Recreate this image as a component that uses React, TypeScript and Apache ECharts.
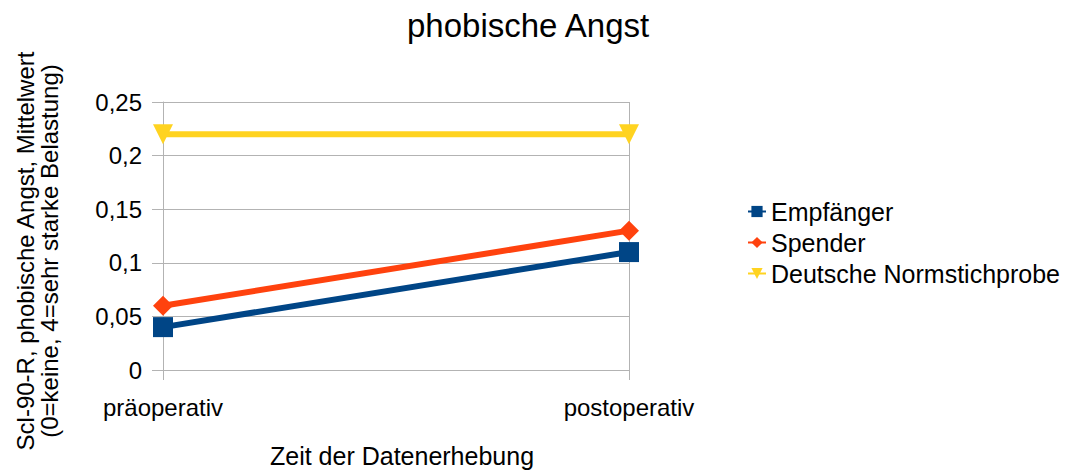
import React, { useEffect, useRef } from "react";
import * as echarts from "echarts";

const categories = ["präoperativ", "postoperativ"];
const empfaenger = [0.04, 0.11];
const spender = [0.06, 0.13];
const normstichprobe = [0.22, 0.22];
const seriesNames = ["Empfänger", "Spender", "Deutsche Normstichprobe"];
const yTicks = { min: 0, max: 0.25, interval: 0.05 };

const FONT = "Liberation Sans";

export default function App() {
  const ref = useRef<HTMLDivElement>(null);
  useEffect(() => {
    if (!ref.current) return;
    const chart = echarts.init(ref.current, null, { renderer: "svg" });
    chart.setOption({
      animation: false,
      backgroundColor: "#ffffff",
      textStyle: { fontFamily: FONT },
      title: {
        text: "phobische Angst",
        left: 402,
        top: 4,
        textStyle: { fontFamily: FONT, fontSize: 33, fontWeight: "normal", color: "#000" },
      },
      legend: {
        orient: "vertical",
        left: 742,
        top: 194,
        itemGap: 6,
        itemWidth: 18,
        itemHeight: 14,
        textStyle: { fontFamily: FONT, fontSize: 25, color: "#000" },
        data: seriesNames,
      },
      grid: { left: 163, right: 438, top: 102, bottom: 97, containLabel: false },
      xAxis: {
        type: "category",
        data: categories,
        boundaryGap: false,
        name: "Zeit der Datenerhebung",
        nameLocation: "middle",
        nameGap: 73,
        nameTextStyle: { fontFamily: FONT, fontSize: 25, color: "#000", padding: [0, 0, 0, 12] },
        axisLine: { show: true, lineStyle: { color: "#b3b3b3", width: 1 } },
        axisTick: { show: true, length: 10, lineStyle: { color: "#b3b3b3" } },
        axisLabel: { fontFamily: FONT, fontSize: 24, color: "#000", margin: 25 },
        splitLine: { show: true, lineStyle: { color: "#b3b3b3", width: 1 } },
      },
      yAxis: {
        type: "value",
        min: yTicks.min,
        max: yTicks.max,
        interval: yTicks.interval,
        axisLine: { show: true, lineStyle: { color: "#b3b3b3", width: 1 } },
        axisTick: { show: true, length: 11, lineStyle: { color: "#b3b3b3" } },
        axisLabel: {
          fontFamily: FONT,
          fontSize: 24,
          color: "#000",
          margin: 21,
          formatter: (v: number) => String(Math.round(v * 100) / 100).replace(".", ","),
        },
        splitLine: { show: true, lineStyle: { color: "#b3b3b3", width: 1 } },
      },
      graphic: [
        {
          type: "text",
          x: 37,
          y: 251,
          rotation: Math.PI / 2,
          style: {
            text: "Scl-90-R, phobische Angst, Mittelwert\n(0=keine, 4=sehr starke Belastung)",
            fontFamily: FONT,
            fontSize: 24,
            lineHeight: 24,
            align: "center",
            verticalAlign: "middle",
            fill: "#000",
          },
        },
      ],
      series: [
        {
          name: seriesNames[0],
          type: "line",
          data: empfaenger,
          color: "#004586",
          symbol: "rect",
          symbolSize: 20,
          lineStyle: { width: 6, color: "#004586" },
          itemStyle: { color: "#004586" },
          z: 3,
        },
        {
          name: seriesNames[1],
          type: "line",
          data: spender,
          color: "#ff420e",
          symbol: "diamond",
          symbolSize: 20,
          lineStyle: { width: 6, color: "#ff420e" },
          itemStyle: { color: "#ff420e" },
          z: 2,
        },
        {
          name: seriesNames[2],
          type: "line",
          data: normstichprobe,
          color: "#ffd320",
          symbol: "triangle",
          symbolRotate: 180,
          symbolSize: [20, 20],
          lineStyle: { width: 6, color: "#ffd320" },
          itemStyle: { color: "#ffd320" },
          z: 1,
        },
      ],
    });
    return () => chart.dispose();
  }, []);
  return (
    <div
      ref={ref}
      style={{ position: "fixed", left: 0, top: 0, width: 1067, height: 473, background: "#fff" }}
    />
  );
}
